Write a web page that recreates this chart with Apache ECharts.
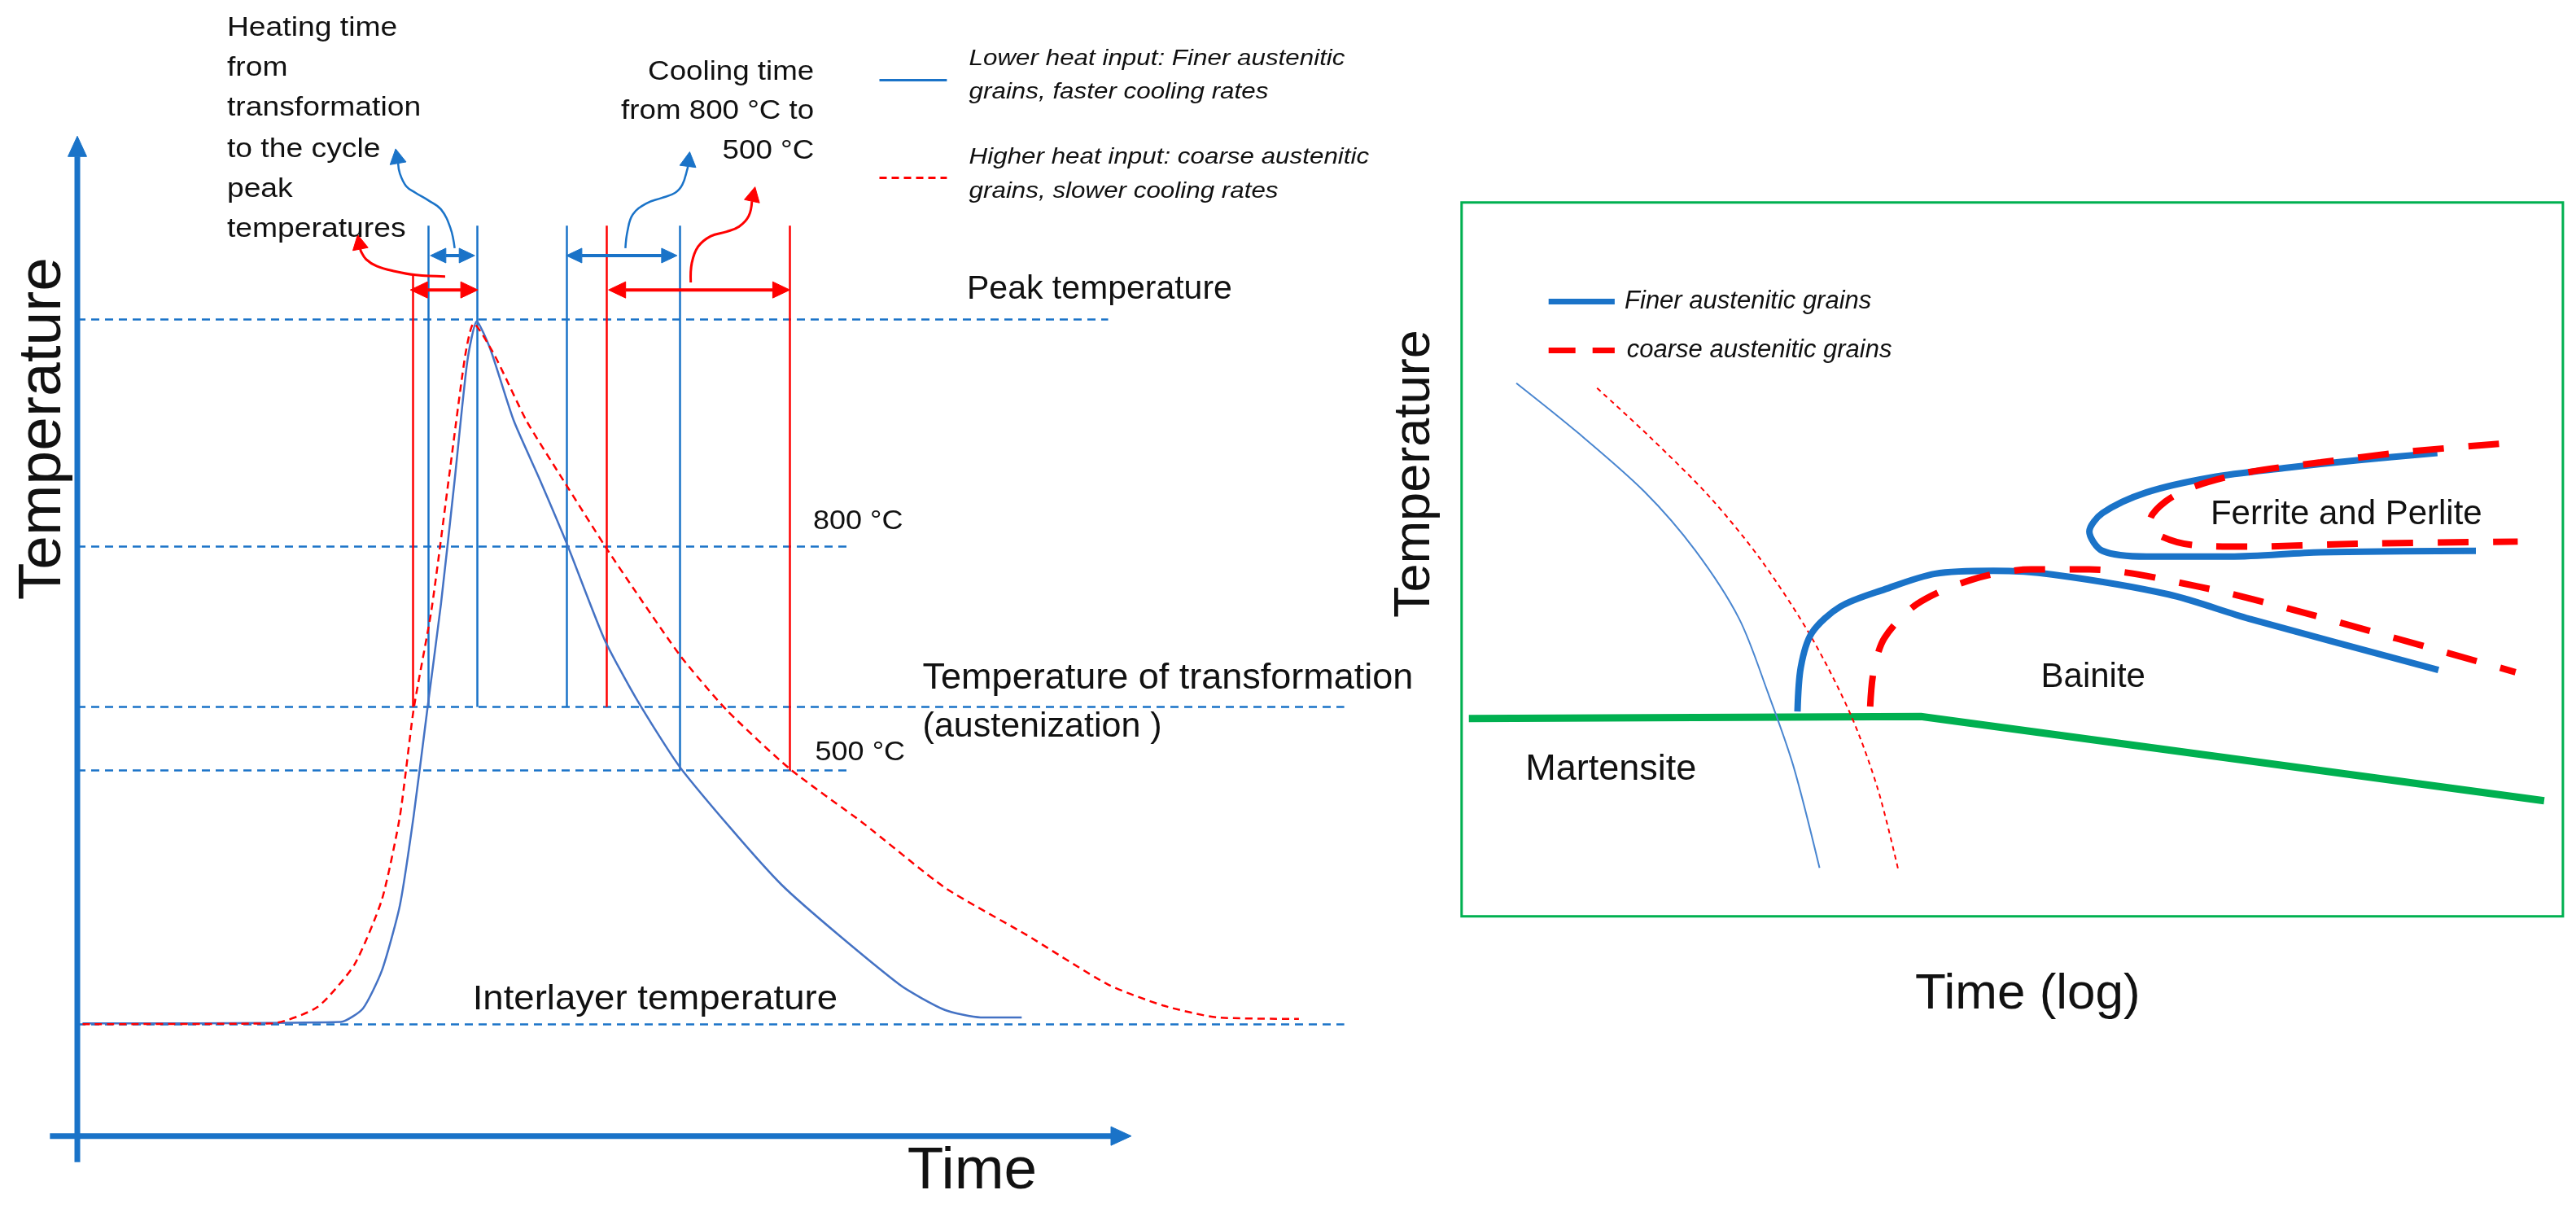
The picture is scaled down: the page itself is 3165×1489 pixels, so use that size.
<!DOCTYPE html>
<html><head><meta charset="utf-8">
<script src="https://cdn.jsdelivr.net/npm/echarts@6/dist/echarts.min.js"></script>
<style>html,body{margin:0;padding:0;background:#fff;}#c{width:3165px;height:1489px;}</style>
</head><body><div id="c"></div>
<script>
// ===== Left chart: weld thermal cycle (schematic time units, temperature °C) =====
const blueCycleT = [0.5,25.0,27.1,28.9,30.6,31.9,33.2,34.5,35.8,37.0,37.9,39.2,41.4,43.9,46.5,50.0,53.0,57.3,66.8,78.0,82.3,85.7,89.6];
const blueCycleV = [161,163,181,232,319,438,581,723,889,1048,1102,1064,969,889,802,676,597,502,347,213,179,169,169];
const redCycleT = [0.5,18.5,22.8,26.3,28.9,30.6,31.9,33.6,35.3,36.8,37.6,39.6,42.6,46.1,50.0,53.0,57.3,61.6,67.6,74.5,82.3,90.0,97.8,103.0,108.1,115.9];
const redCycleV = [160,161,183,240,327,438,581,715,897,1056,1099,1056,969,889,802,739,652,581,502,430,343,280,213,185,169,167];

const levelValues = [1105, 800, 585, 500, 160];      // peak, 800 °C, transformation, 500 °C, interlayer
const levelEndT   = [97.8, 73.2, 120.2, 73.2, 120.2];

const blueMarkT = [33.3, 37.9, 46.4, 57.2];
const blueMarkTop = [1230, 1230, 1230, 1230];
const blueMarkBottom = [585, 585, 585, 500];
const redMarkT = [31.8, 50.2, 67.6];
const redMarkTop = [1165, 1230, 1230];
const redMarkBottom = [585, 585, 500];

const blueSpanV = 1190, redSpanV = 1144;
const heatSpanBlue = [33.5, 37.7], coolSpanBlue = [46.4, 56.9];
const heatSpanRed = [31.6, 38.0], coolSpanRed = [50.4, 67.6];

const heatArrowBlueT = [35.8,35.4,34.5,33.3,32.1,31.2,30.6,30.3,30.2];
const heatArrowBlueV = [1200,1227,1252,1264,1274,1283,1300,1318,1333];
const heatArrowRedT = [34.9,32.1,30.1,28.4,27.4,26.9,26.7,26.6];
const heatArrowRedV = [1162,1164,1169,1176,1185,1196,1207,1218];
const coolArrowBlueT = [52.0,52.2,52.7,54.0,55.4,56.7,57.4,57.9,58.1];
const coolArrowBlueV = [1200,1223,1245,1260,1267,1274,1285,1307,1329];
const coolArrowRedT = [58.2,58.3,58.9,60.1,61.6,62.8,63.7,64.2,64.3];
const coolArrowRedV = [1154,1180,1202,1216,1222,1229,1243,1263,1282];

const axisYT = [0, 0], axisYV = [-25, 1350];
const axisXT = [-2.6, 100], axisXV = [10, 10];

const legendLeftT = [76.1, 82.5];
const legendLeftV = [1425, 1294];

const leftLabelText = ['Heating time','from','transformation','to the cycle','peak','temperatures',
  'Cooling time','from 800 °C to','500 °C',
  'Lower heat input: Finer austenitic','grains, faster cooling rates','Higher heat input: coarse austenitic','grains, slower cooling rates',
  'Peak temperature','800 °C','500 °C','Temperature of transformation','(austenization )','Interlayer temperature','Time','Temperature'];
const leftLabelT = [14.2,14.2,14.2,14.2,14.2,14.2, 69.9,69.9,69.9, 84.6,84.6,84.6,84.6, 84.4,69.8,70.0,80.2,80.2,37.5,84.9,-3.2];
const leftLabelV = [1494,1441,1387,1332,1278,1225, 1436,1384,1330, 1454,1409,1322,1276, 1144,834,524,623,558,193,-38,958];

// ===== Right chart: CCT diagram (schematic log-time / temperature, 0-100) =====
const msLineX = [0.66, 41.7, 98.3];
const msLineY = [27.7, 28.0, 16.2];
const coolFastX = [4.97,10.6,16.6,21.2,25.2,27.8,30.1,32.5];
const coolFastY = [74.7,67.7,59.5,51.3,41.7,31.4,21.2,6.8];
const coolSlowX = [12.3,17.2,22.5,27.2,31.8,35.4,37.8,39.7];
const coolSlowY = [74.0,67.0,58.8,49.9,39.0,28.0,17.8,6.2];
const bainFineX = [30.5,30.8,31.8,34.4,38.4,43.0,48.3,53.6,64.2,71.5,88.7];
const bainFineY = [28.7,34.9,39.7,43.4,45.8,48.0,48.4,47.9,45.1,41.7,34.5];
const bainCoarseX = [37.1,37.4,38.4,41.4,46.4,51.7,57.0,66.9,76.8,95.7];
const bainCoarseY = [29.4,34.2,39.0,43.8,47.2,48.6,48.6,46.2,42.4,34.2];
const ferrFineX = [88.6,81.3,74.7,68.1,62.2,58.2,57.0,58.2,62.2,69.8,78.0,92.1];
const ferrFineY = [64.9,63.9,62.8,61.5,59.4,56.5,53.9,51.2,50.4,50.4,51.0,51.2];
const ferrCoarseX = [94.2,86.0,78.0,71.4,66.5,63.9,62.5,63.2,66.5,71.4,81.3,95.9];
const ferrCoarseY = [66.2,65.1,63.6,62.2,60.2,58.1,55.4,53.5,52.0,51.8,52.2,52.5];

const legendRightX = [7.9, 13.9];
const legendRightY = [86.1, 79.3];

const rightLabelText = ['Finer austenitic grains','coarse austenitic grains','Ferrite and Perlite','Bainite','Martensite','Temperature','Time (log)'];
const rightLabelX = [14.8, 15.0, 68.0, 52.6, 5.8, -4.2, 51.4];
const rightLabelY = [86.1, 79.3, 56.3, 33.4, 20.5, 62.0, -11.0];

// ===== styles =====
const BLUE = '#1a73c8', CURVE_BLUE = '#4472c4', RED = '#ff0000', GREEN = '#00b050';
const FONT = '"Liberation Sans", Arial, sans-serif';
const leftLabelStyle = [
  ...Array(6).fill({size:33, sx:1.13}),
  ...Array(3).fill({size:34, sx:1.08, align:'right'}),
  ...Array(4).fill({size:28, sx:1.12, italic:true}),
  {size:41},{size:34, sx:1.06},{size:34, sx:1.06},{size:45},{size:43},{size:43, sx:1.06},
  {size:73, align:'center'},{size:75, align:'center', rot:Math.PI/2}
];
const rightLabelStyle = [
  {size:31, italic:true},{size:31, italic:true},{size:42},{size:42},{size:45},
  {size:63, align:'center', rot:Math.PI/2},{size:62, align:'center'}
];

const zip = (a, b) => a.map((v, i) => [v, b[i]]);

function lineSeries(gi, xs, ys, color, width, dash, smooth, z) {
  return {type:'line', xAxisIndex:gi, yAxisIndex:gi, data:zip(xs, ys), smooth:smooth, symbol:'none',
    showSymbol:false, silent:true, z:z||3, lineStyle:{color:color, width:width, type:dash||'solid', cap:'butt'}};
}
function segSeries(gi, segs, color, width, dash) {
  return {type:'lines', coordinateSystem:'cartesian2d', xAxisIndex:gi, yAxisIndex:gi, silent:true, z:2,
    data:segs.map(s => ({coords:s})), lineStyle:{color:color, width:width, type:dash||'solid', opacity:1}};
}
function arrowSeries(gi, paths, color, width, headL, headW, both, smooth) {
  return {type:'custom', xAxisIndex:gi, yAxisIndex:gi, silent:true, z:6, clip:false,
    data:paths.map((p, i) => [p[p.length-1][0], p[p.length-1][1], i]),
    renderItem:function(params, api) {
      const path = paths[api.value(2)];
      let pts = path.map(q => api.coord(q));
      const cutEnd = (ps) => {
        const tip = ps[ps.length-1];
        let k = ps.length - 2;
        while (k > 0 && Math.hypot(ps[k][0]-tip[0], ps[k][1]-tip[1]) < headL) k--;
        const ref = ps[k];
        const dx = tip[0]-ref[0], dy = tip[1]-ref[1], d = Math.hypot(dx, dy) || 1;
        const ux = dx/d, uy = dy/d;
        const base = [tip[0]-ux*headL, tip[1]-uy*headL];
        const head = [tip, [base[0]-uy*headW/2, base[1]+ux*headW/2], [base[0]+uy*headW/2, base[1]-ux*headW/2]];
        return {pts: ps.slice(0, k+1).concat([base]), head: head};
      };
      const heads = [];
      let r = cutEnd(pts); pts = r.pts; heads.push(r.head);
      if (both) { const r2 = cutEnd(pts.slice().reverse()); pts = r2.pts.reverse(); heads.push(r2.head); }
      const children = [{type:'polyline', shape:{points:pts, smooth:smooth||0}, style:{stroke:color, lineWidth:width, fill:'none'}}];
      heads.forEach(h => children.push({type:'polygon', shape:{points:h}, style:{fill:color, stroke:color, lineWidth:1}}));
      return {type:'group', children:children};
    }};
}
function textSeries(gi, texts, xs, ys, styles) {
  return {type:'custom', xAxisIndex:gi, yAxisIndex:gi, silent:true, z:10, clip:false,
    data:texts.map((t, i) => [xs[i], ys[i], i]),
    renderItem:function(params, api) {
      const i = api.value(2);
      const p = api.coord([api.value(0), api.value(1)]);
      const st = styles[i];
      return {type:'text', x:p[0], y:p[1], rotation:st.rot||0, scaleX:st.sx||1, scaleY:1,
        style:{text:texts[i], fill:'#111', fontSize:st.size, fontFamily:FONT,
          fontStyle:st.italic ? 'italic' : 'normal', align:st.align||'left', verticalAlign:'middle'}};
    }};
}

const levelSegs = levelValues.map((v, i) => [[0, v], [levelEndT[i], v]]);
const blueMarkSegs = blueMarkT.map((t, i) => [[t, blueMarkBottom[i]], [t, blueMarkTop[i]]]);
const redMarkSegs = redMarkT.map((t, i) => [[t, redMarkBottom[i]], [t, redMarkTop[i]]]);

const option = {
  animation:false,
  backgroundColor:'#ffffff',
  grid:[
    {left:4.35, top:2.3, width:1774.15, height:1457.55, show:false},
    {left:1795.8, top:248.8, width:1353.1, height:877, show:true, borderColor:GREEN, borderWidth:3, backgroundColor:'transparent'}
  ],
  xAxis:[
    {type:'value', gridIndex:0, min:-7, max:130, show:false},
    {type:'value', gridIndex:1, min:0, max:100, show:false}
  ],
  yAxis:[
    {type:'value', gridIndex:0, min:-60, max:1530, show:false},
    {type:'value', gridIndex:1, min:0, max:100, show:false}
  ],
  series:[
    // left chart
    segSeries(0, levelSegs, BLUE, 2.5, [10, 7]),
    segSeries(0, blueMarkSegs, BLUE, 2.5),
    segSeries(0, redMarkSegs, RED, 2.5),
    lineSeries(0, blueCycleT, blueCycleV, CURVE_BLUE, 2.5, 'solid', 0.2, 4),
    lineSeries(0, redCycleT, redCycleV, RED, 2.5, [9, 6], 0.2, 5),
    arrowSeries(0, [zip(axisYT, axisYV), zip(axisXT, axisXV)], BLUE, 7, 25, 23, false, 0),
    arrowSeries(0, [[[heatSpanBlue[0], blueSpanV], [heatSpanBlue[1], blueSpanV]], [[coolSpanBlue[0], blueSpanV], [coolSpanBlue[1], blueSpanV]]], BLUE, 4, 19, 18, true, 0),
    arrowSeries(0, [[[heatSpanRed[0], redSpanV], [heatSpanRed[1], redSpanV]], [[coolSpanRed[0], redSpanV], [coolSpanRed[1], redSpanV]]], RED, 4, 21, 20, true, 0),
    arrowSeries(0, [zip(heatArrowBlueT, heatArrowBlueV), zip(coolArrowBlueT, coolArrowBlueV)], BLUE, 2.5, 18, 20, false, 0.4),
    arrowSeries(0, [zip(heatArrowRedT, heatArrowRedV), zip(coolArrowRedT, coolArrowRedV)], RED, 3, 18, 19, false, 0.4),
    segSeries(0, [[[legendLeftT[0], legendLeftV[0]], [legendLeftT[1], legendLeftV[0]]]], BLUE, 3),
    segSeries(0, [[[legendLeftT[0], legendLeftV[1]], [legendLeftT[1], legendLeftV[1]]]], RED, 3, [9, 6]),
    textSeries(0, leftLabelText, leftLabelT, leftLabelV, leftLabelStyle),
    // right chart
    lineSeries(1, msLineX, msLineY, GREEN, 9, 'solid', false, 3),
    lineSeries(1, coolFastX, coolFastY, '#4a86d0', 2, 'solid', 0.3, 4),
    lineSeries(1, coolSlowX, coolSlowY, RED, 2, [6, 5], 0.3, 4),
    lineSeries(1, bainFineX, bainFineY, BLUE, 8, 'solid', 0.3, 5),
    lineSeries(1, ferrFineX, ferrFineY, BLUE, 8, 'solid', 0.3, 5),
    lineSeries(1, bainCoarseX, bainCoarseY, RED, 8, [38, 30], 0.3, 6),
    lineSeries(1, ferrCoarseX, ferrCoarseY, RED, 8, [38, 30], 0.3, 6),
    segSeries(1, [[[legendRightX[0], legendRightY[0]], [legendRightX[1], legendRightY[0]]]], BLUE, 7),
    segSeries(1, [[[legendRightX[0], legendRightY[1]], [legendRightX[1], legendRightY[1]]]], RED, 7, [33, 21]),
    textSeries(1, rightLabelText, rightLabelX, rightLabelY, rightLabelStyle)
  ]
};
const chart = echarts.init(document.getElementById('c'), null, {width:3165, height:1489});
chart.setOption(option);
</script>
</body></html>
